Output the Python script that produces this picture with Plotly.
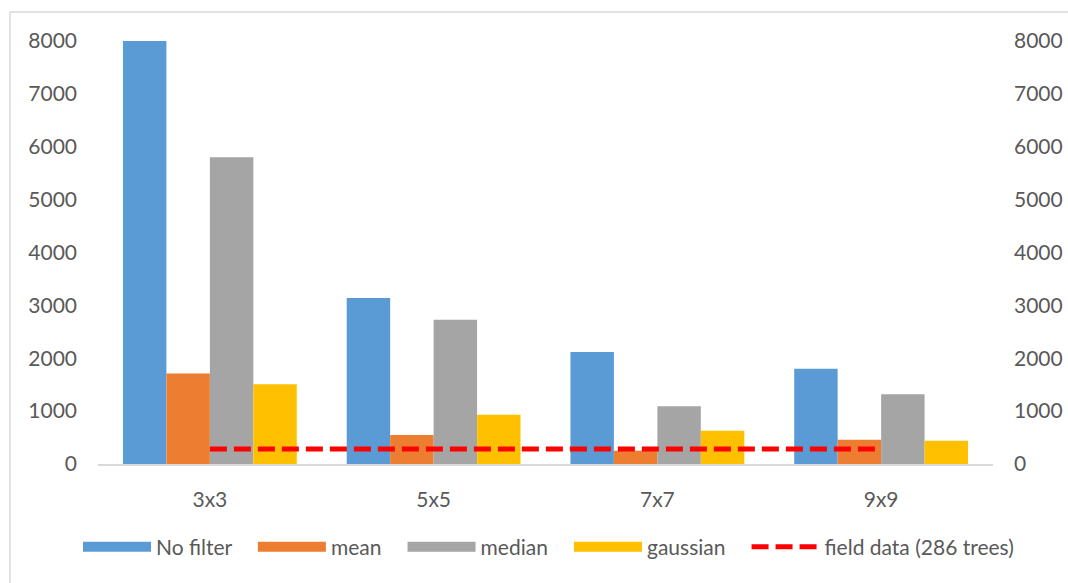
import plotly.graph_objects as go

# Detected tree counts per window size and filter
window_sizes = ["3x3", "5x5", "7x7", "9x9"]
no_filter = [8000, 3140, 2120, 1800]
mean_filter = [1710, 550, 250, 460]
median_filter = [5800, 2730, 1090, 1320]
gaussian_filter = [1510, 930, 630, 440]
field_trees = 286
field_counts = [field_trees] * len(window_sizes)

series_names = ["No filter", "mean", "median", "gaussian"]
series_values = [no_filter, mean_filter, median_filter, gaussian_filter]
series_colors = ["#5B9BD5", "#ED7D31", "#A5A5A5", "#FFC000"]

tick_vals = [0, 1000, 2000, 3000, 4000, 5000, 6000, 7000, 8000]

W, H = 1068, 583
L, R, T, B = 98, 75, 41, 119
pw, ph = W - L - R, H - T - B
PAD = "\u00a0\u00a0\u00a0"  # extra spacing after each legend label

fig = go.Figure()
for name, vals, color in zip(series_names, series_values, series_colors):
    # bars, with a wide flat swatch entry in the legend
    fig.add_trace(go.Bar(x=window_sizes, y=vals, name=name, marker_color=color,
                         marker_line_width=0, legendgroup=name,
                         showlegend=False))
    fig.add_trace(go.Scatter(x=[None], y=[None], mode="lines", name=name + PAD,
                             legendgroup=name,
                             line=dict(color=color, width=14)))

fig.add_trace(go.Scatter(x=window_sizes, y=field_counts, mode="lines",
                         name="field data (286 trees)",
                         line=dict(color="#FF0000", width=5, dash="17px,7px"),
                         yaxis="y2"))

font = dict(family="Lato, Open Sans, sans-serif", size=21, color="#595959")

fig.update_layout(
    width=W, height=H,
    margin=dict(l=L, r=R, t=T, b=B, autoexpand=False),
    paper_bgcolor="white", plot_bgcolor="white",
    barmode="group", bargap=0.223, bargroupgap=0,
    font=font,
    xaxis=dict(showline=True, linecolor="#d9d9d9", linewidth=2, ticks="",
               showgrid=False, tickfont=font, ticklabelstandoff=16,
               automargin=False),
    yaxis=dict(range=[0, 8000], tickvals=tick_vals, showgrid=False,
               zeroline=False, showline=False, ticks="", tickfont=font,
               ticklabelstandoff=20, automargin=False),
    yaxis2=dict(range=[0, 8000], tickvals=tick_vals, overlaying="y",
                side="right", showgrid=False, zeroline=False, showline=False,
                ticks="", tickfont=font, ticklabelstandoff=20,
                automargin=False),
    legend=dict(orientation="h", x=(78 - L) / pw, xanchor="left",
                y=-83 / ph, yanchor="middle", font=font, itemwidth=68,
                traceorder="normal"),
    showlegend=True,
)

# Outer chart frame
fig.add_shape(type="rect", xref="paper", yref="paper",
              x0=(10 - L) / pw, x1=(W + 10 - L) / pw,
              y0=(464 - (H + 10)) / ph, y1=(464 - 12) / ph,
              line=dict(color="#d9d9d9", width=1.5), layer="below")

fig.write_html("out.html")
